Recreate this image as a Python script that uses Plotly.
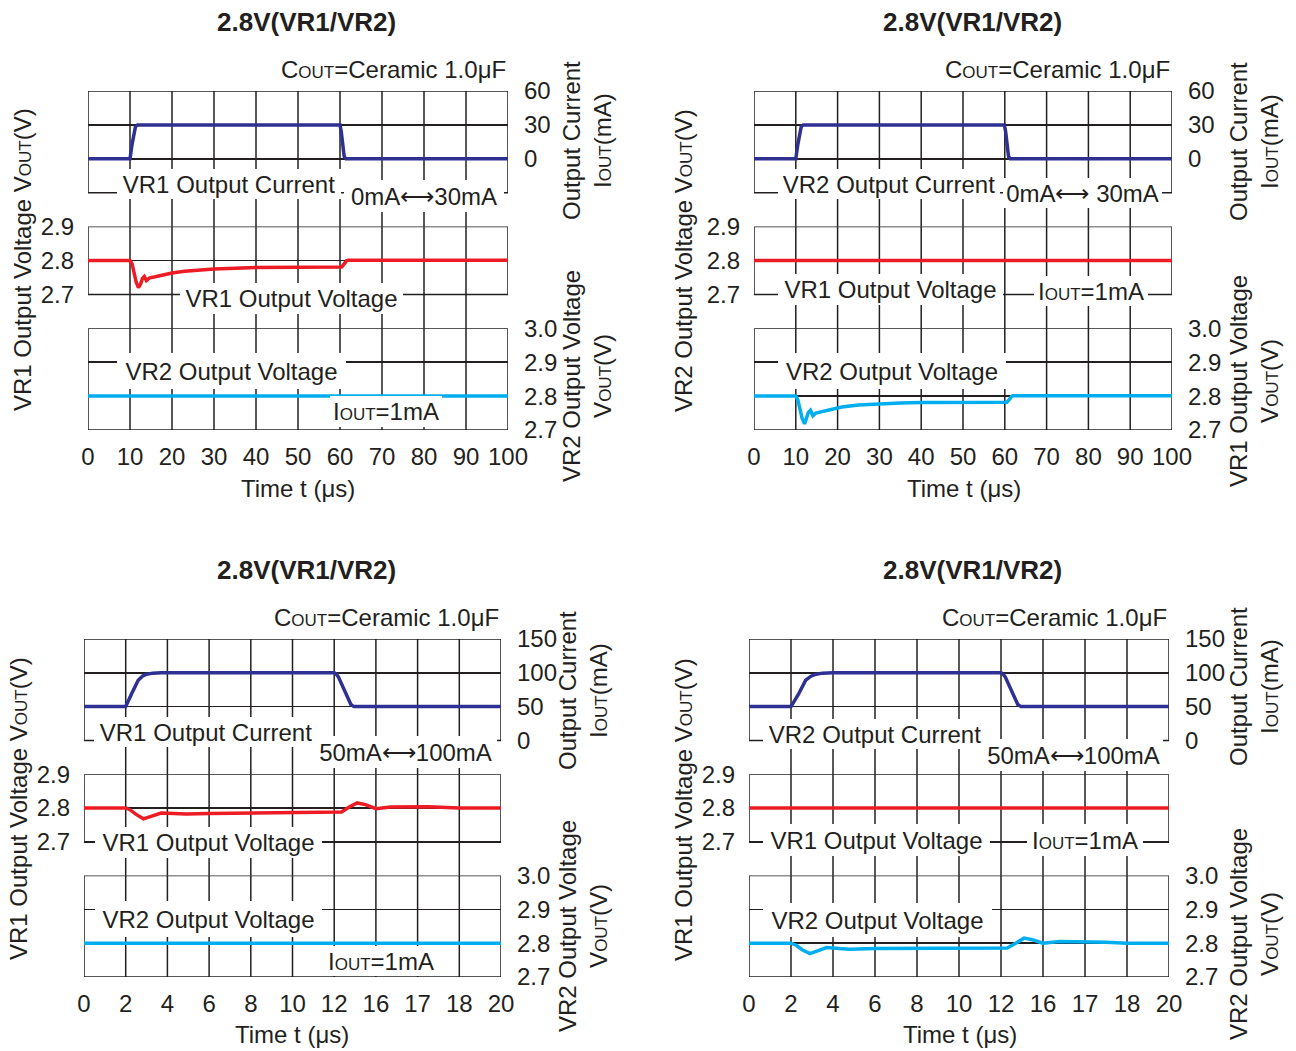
import plotly.graph_objects as go

W, H = 1296, 1051

# ---------------- data (time in µs, current in mA, voltage in V) ----------------
# Panel A : VR1 load transient 0mA <-> 30mA
a_cur_t = [0, 10, 10.5, 11.0, 11.3, 11.8, 60, 60.3, 60.7, 61.0, 61.4, 100]
a_cur_i = [0, 0, 13, 25, 28.5, 30, 30, 24, 12, 2, 0, 0]
a_vr1_t = [0, 10, 10.5, 11, 11.5, 12, 12.5, 13, 13.4, 13.9, 14.7, 16, 18, 20, 23, 26, 30, 35, 40, 50, 60, 60.4, 61.0, 61.6, 62, 100]
a_vr1_v = [2.8, 2.8, 2.79, 2.762, 2.735, 2.72, 2.73, 2.748, 2.753, 2.741, 2.749, 2.752, 2.758, 2.763, 2.768, 2.771, 2.775, 2.777, 2.779, 2.780, 2.781, 2.781, 2.79, 2.80, 2.801, 2.801]
a_vr2_t = [0, 100]
a_vr2_v = [2.8, 2.8]

# Panel B : VR2 load transient 0mA <-> 30mA
b_cur_t = [0, 10, 10.5, 11.0, 11.3, 11.8, 59.9, 60.2, 60.6, 60.9, 61.3, 100]
b_cur_i = [0, 0, 13, 25, 28.5, 30, 30, 24, 12, 2, 0, 0]
b_vr1_t = [0, 100]
b_vr1_v = [2.8, 2.8]
b_vr2_t = [0, 10, 10.5, 11, 11.5, 12.1, 12.6, 13.0, 13.5, 14.1, 14.8, 16, 18, 21, 25, 30, 35, 40, 50, 60, 60.5, 61.1, 61.6, 62, 100]
b_vr2_v = [2.8, 2.8, 2.788, 2.765, 2.735, 2.718, 2.735, 2.752, 2.758, 2.742, 2.750, 2.753, 2.760, 2.768, 2.774, 2.778, 2.780, 2.781, 2.781, 2.781, 2.782, 2.79, 2.799, 2.801, 2.801]

# Panel C : VR1 load transient 50mA <-> 100mA
c_cur_t = [0, 2, 2.3, 2.6, 2.8, 3.0, 3.3, 3.7, 12, 12.1, 12.2, 12.4, 12.6, 12.8, 12.95, 20]
c_cur_i = [50, 50, 70, 89, 95, 98, 99.5, 100, 100, 98, 94, 80, 66, 53, 50, 50]
c_vr1_t = [0, 2, 2.2, 2.5, 2.85, 3.2, 3.7, 4.3, 4.9, 6, 8, 10, 12, 12.35, 12.7, 13.1, 13.5, 14.0, 14.7, 15.5, 16.5, 18, 20]
c_vr1_v = [2.8, 2.8, 2.795, 2.781, 2.768, 2.774, 2.785, 2.784, 2.782, 2.784, 2.785, 2.786, 2.787, 2.788, 2.802, 2.815, 2.81, 2.798, 2.803, 2.804, 2.804, 2.80, 2.8]
c_vr2_t = [0, 20]
c_vr2_v = [2.8, 2.8]

# Panel D : VR2 load transient 50mA <-> 100mA
d_cur_t = [0, 2, 2.35, 2.7, 2.95, 3.2, 3.5, 4.0, 12, 12.1, 12.2, 12.4, 12.6, 12.8, 12.95, 20]
d_cur_i = [50, 50, 68, 89, 95, 98, 99.5, 100, 100, 98, 94, 80, 66, 53, 50, 50]
d_vr1_t = [0, 20]
d_vr1_v = [2.8, 2.8]
d_vr2_t = [0, 2, 2.25, 2.55, 2.9, 3.25, 3.7, 4.3, 4.8, 6, 8, 10, 12.3, 12.7, 13.1, 13.5, 14.0, 14.8, 16, 17, 18, 20]
d_vr2_v = [2.8, 2.8, 2.794, 2.78, 2.769, 2.776, 2.787, 2.784, 2.782, 2.784, 2.785, 2.785, 2.786, 2.80, 2.815, 2.81, 2.800, 2.805, 2.805, 2.803, 2.80, 2.8]

# tick labels
x_ticks_100 = [0, 10, 20, 30, 40, 50, 60, 70, 80, 90, 100]
x_text_100 = ["0", "10", "20", "30", "40", "50", "60", "70", "80", "90", "100"]
x_ticks_20 = [0, 2, 4, 6, 8, 10, 12, 14, 16, 18, 20]
x_text_20 = ["0", "2", "4", "6", "8", "10", "12", "16", "17", "18", "20"]
cur_ticks_30 = [0, 30, 60]
cur_ticks_150 = [0, 50, 100, 150]
vr1_ticks = [2.7, 2.8, 2.9]
vr1_text = ["2.7", "2.8", "2.9"]
vr2_ticks = [2.7, 2.8, 2.9, 3.0]
vr2_text = ["2.7", "2.8", "2.9", "3.0"]

# ---------------- style ----------------
FONT = "Liberation Sans, Arial, Helvetica, sans-serif"
INK = "#231f20"
BLUE = "#2e3192"
RED = "#ed1c24"
CYAN = "#00aeef"
FS = 24
SM = 17


def sc(s):
    return f"<span style='font-size:{SM}px'>{s}</span>"


COUT = "C" + sc("OUT") + "=Ceramic 1.0μF"
IOUT1 = "I" + sc("OUT") + "=1mA"
VOUT = "V" + sc("OUT") + "(V)"
IOUTMA = "I" + sc("OUT") + "(mA)"

panels = [
    dict(x0=88, x1=508, top=91, row=33.9, xmax=100, xt=x_ticks_100, xtt=x_text_100,
         cur_rng=[-60, 60], cur_box=[-30, 60], cur_ticks=cur_ticks_30,
         cur=(a_cur_t, a_cur_i), vr1=(a_vr1_t, a_vr1_v), vr2=(a_vr2_t, a_vr2_v)),
    dict(x0=754, x1=1172, top=91, row=33.9, xmax=100, xt=x_ticks_100, xtt=x_text_100,
         cur_rng=[-60, 60], cur_box=[-30, 60], cur_ticks=cur_ticks_30,
         cur=(b_cur_t, b_cur_i), vr1=(b_vr1_t, b_vr1_v), vr2=(b_vr2_t, b_vr2_v)),
    dict(x0=84, x1=501, top=639, row=33.8, xmax=20, xt=x_ticks_20, xtt=x_text_20,
         cur_rng=[-50, 150], cur_box=[0, 150], cur_ticks=cur_ticks_150,
         cur=(c_cur_t, c_cur_i), vr1=(c_vr1_t, c_vr1_v), vr2=(c_vr2_t, c_vr2_v)),
    dict(x0=749, x1=1169, top=639, row=33.8, xmax=20, xt=x_ticks_20, xtt=x_text_20,
         cur_rng=[-50, 150], cur_box=[0, 150], cur_ticks=cur_ticks_150,
         cur=(d_cur_t, d_cur_i), vr1=(d_vr1_t, d_vr1_v), vr2=(d_vr2_t, d_vr2_v)),
]

fig = go.Figure()
layout = {}
shapes = []
annotations = []


def px(x):
    return x / W


def py(y):
    return 1 - y / H


for p, P in enumerate(panels):
    xn = p + 1
    xa = "x" if xn == 1 else f"x{xn}"
    yids = [3 * p + 1, 3 * p + 2, 3 * p + 3]
    ya = ["y" if i == 1 else f"y{i}" for i in yids]
    top, row = P["top"], P["row"]

    def dom(r0, r1):
        return [py(top + r1 * row), py(top + r0 * row)]

    tickfont = dict(family=FONT, size=FS, color=INK)
    layout["xaxis" if xn == 1 else f"xaxis{xn}"] = dict(
        domain=[px(P["x0"]), px(P["x1"])], range=[0, P["xmax"]], anchor=ya[2],
        tickvals=P["xt"], ticktext=P["xtt"], showgrid=False, zeroline=False,
        showline=False, ticks="", ticklabelstandoff=10, tickfont=tickfont,
        automargin=False, fixedrange=True)
    common = dict(anchor=xa, showgrid=True, gridcolor=INK, gridwidth=1.5,
                  zeroline=False, showline=False, ticks="", tickfont=tickfont,
                  automargin=False, fixedrange=True)
    layout["yaxis" if yids[0] == 1 else f"yaxis{yids[0]}"] = dict(
        domain=dom(0, 4), range=P["cur_rng"], side="right",
        tickvals=P["cur_ticks"], ticktext=[str(v) for v in P["cur_ticks"]],
        ticklabelstandoff=15, **common)
    layout[f"yaxis{yids[1]}"] = dict(
        domain=dom(4, 7), range=[2.6, 2.9], side="left",
        tickvals=vr1_ticks, ticktext=vr1_text, ticklabelstandoff=13, **common)
    layout[f"yaxis{yids[2]}"] = dict(
        domain=dom(7, 10), range=[2.7, 3.0], side="right",
        tickvals=vr2_ticks, ticktext=vr2_text, ticklabelstandoff=15, **common)

    # traces
    for key, yax, col in (("cur", ya[0], BLUE), ("vr1", ya[1], RED), ("vr2", ya[2], CYAN)):
        t, v = P[key]
        fig.add_trace(go.Scatter(x=t, y=v, xaxis=xa, yaxis=yax, mode="lines",
                                 line=dict(color=col, width=3.5), hoverinfo="skip",
                                 showlegend=False))

    # vertical grid lines (continuous through the gaps between the boxes)
    for tv in P["xt"][1:-1]:
        for yax in ya:
            shapes.append(dict(type="line", xref=xa, yref=f"{yax} domain",
                               x0=tv, x1=tv, y0=0, y1=1, layer="below",
                               line=dict(color=INK, width=1.5)))
    # boxes
    for yax, (b0, b1) in ((ya[0], P["cur_box"]), (ya[1], (2.7, 2.9)), (ya[2], (2.7, 3.0))):
        shapes.append(dict(type="rect", xref=xa, yref=yax, x0=0, x1=P["xmax"],
                           y0=b0, y1=b1, layer="below",
                           line=dict(color=INK, width=1.5), fillcolor="rgba(0,0,0,0)"))

layout["shapes"] = shapes


def ann(text, cx, cy, size=FS, bold=False, angle=0, w=None, h=None,
        xanchor="center"):
    d = dict(text=f"<b>{text}</b>" if bold else text, x=px(cx), y=py(cy),
             xref="paper", yref="paper", showarrow=False, xanchor=xanchor,
             yanchor="middle", textangle=angle,
             font=dict(family=FONT, size=size, color=INK))
    if w is not None:
        d.update(width=w, height=h, bgcolor="white", borderpad=0,
                 borderwidth=0, align="center", valign="middle")
    annotations.append(d)


# titles
for cx, cy in ((306, 22), (972, 22), (306, 570), (972, 570)):
    ann("2.8V(VR1/VR2)", cx, cy, size=26, bold=True)
# Cout labels
for rx, cy in ((508, 69), (1172, 69), (501, 617), (1169, 617)):
    ann(COUT, rx, cy, xanchor="right")
# x titles
for cx, cy in ((298, 488), (964, 488), (292, 1034), (960, 1034)):
    ann("Time t (μs)", cx, cy)
# left titles
ann("VR1 Output Voltage " + VOUT, 22, 260, angle=-90)
ann("VR2 Output Voltage " + VOUT, 683, 260, angle=-90)
ann("VR1 Output Voltage " + VOUT, 18, 809, angle=-90)
ann("VR1 Output Voltage " + VOUT, 683, 809, angle=-90)
# right titles
ann("Output Current<br>" + IOUTMA, 587, 141, angle=-90)
ann("VR2 Output Voltage<br>" + VOUT, 587, 376, angle=-90)
ann("Output Current<br>" + IOUTMA, 1254, 142, angle=-90)
ann("VR1 Output Voltage<br>" + VOUT, 1254, 381, angle=-90)
ann("Output Current<br>" + IOUTMA, 583, 691, angle=-90)
ann("VR2 Output Voltage<br>" + VOUT, 583, 926, angle=-90)
ann("Output Current<br>" + IOUTMA, 1254, 687, angle=-90)
ann("VR2 Output Voltage<br>" + VOUT, 1254, 934, angle=-90)

# in-plot labels with white background
labels = [
    ("VR1 Output Current", 229, 184, 224, 30),
    ("0mA⟷30mA", 424, 196, 160, 32),
    ("VR1 Output Voltage", 291.5, 298.5, 223, 31),
    ("VR2 Output Voltage", 231.5, 371, 229, 36),
    (IOUT1, 386, 411.5, 112, 31),

    ("VR2 Output Current", 889, 184, 222, 30),
    ("0mA⟷ 30mA", 1082.5, 193, 159, 30),
    ("VR1 Output Voltage", 890.5, 289.5, 225, 31),
    (IOUT1, 1091, 290.5, 114, 30),
    ("VR2 Output Voltage", 892, 371, 228, 36),

    ("VR1 Output Current", 206, 732, 224, 30),
    ("50mA⟷100mA", 405.5, 752, 183, 32),
    ("VR1 Output Voltage", 208.5, 842.5, 227, 31),
    ("VR2 Output Voltage", 208.5, 919, 227, 36),
    (IOUT1, 381, 961, 112, 30),

    ("VR2 Output Current", 875, 734, 224, 30),
    ("50mA⟷100mA", 1073.5, 755, 179, 32),
    ("VR1 Output Voltage", 876.5, 840, 227, 32),
    (IOUT1, 1085, 840, 116, 32),
    ("VR2 Output Voltage", 877.5, 920, 229, 34),
]
for text, cx, cy, w, h in labels:
    ann(text, cx, cy, w=w, h=h)

layout["annotations"] = annotations
fig.update_layout(**layout)
fig.update_layout(width=W, height=H, margin=dict(l=0, r=0, t=0, b=0, pad=0, autoexpand=False),
                  paper_bgcolor="white", plot_bgcolor="white",
                  font=dict(family=FONT, size=FS, color=INK), showlegend=False)

# remove the browser's default 8px page margin so the figure fills the window
fig.write_html("out.html", config={"displayModeBar": False, "staticPlot": True},
               post_script="document.body.style.margin='0px';")
